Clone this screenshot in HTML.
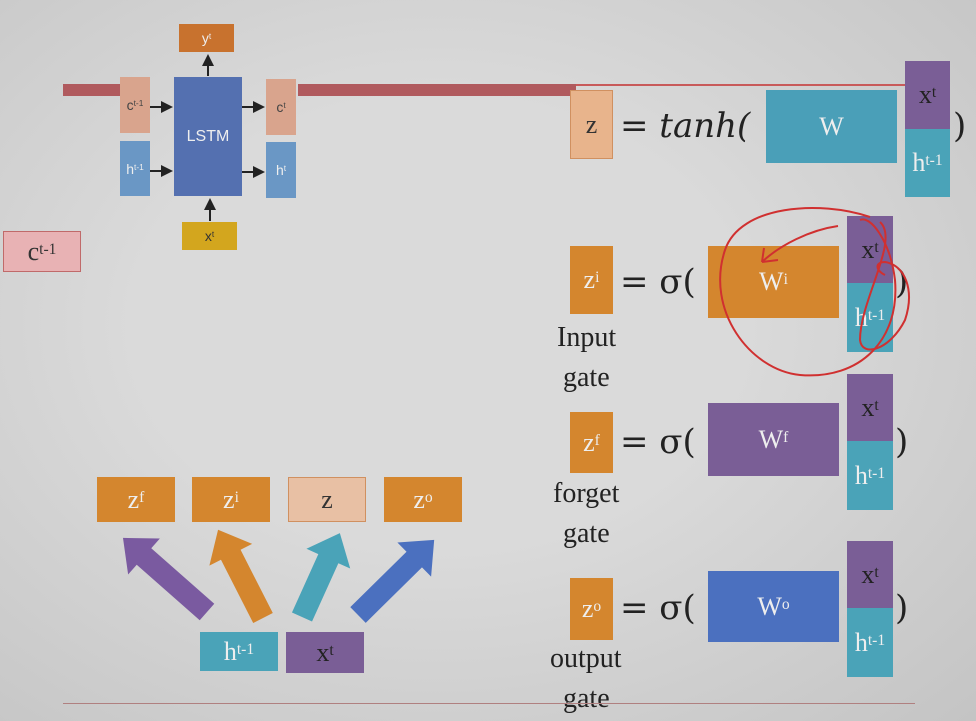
<!DOCTYPE html>
<html><head><meta charset="utf-8"><style>
body{margin:0;width:976px;height:721px;overflow:hidden;background:#d3d3d3;font-family:"Liberation Serif",serif;}
.b{position:absolute;box-sizing:border-box;display:flex;align-items:center;justify-content:center;color:#eee;}
.s{font-family:"Liberation Sans",sans-serif;font-size:14px;}
sup{font-size:60%;vertical-align:top;position:relative;top:-2px}
.t{position:absolute;font-size:28px;color:#222;}
.m{position:absolute;font-size:34px;color:#222;font-family:"DejaVu Serif",serif;}
</style></head><body>
<div style="position:absolute;inset:0;background:radial-gradient(ellipse at 45% 45%,#dadada 40%,#c4c4c4 100%)"></div>
<!-- red line -->
<div style="position:absolute;left:63px;top:84px;width:57px;height:12px;background:#b05a5e"></div>
<div style="position:absolute;left:298px;top:84px;width:278px;height:12px;background:#b05a5e"></div>
<div style="position:absolute;left:576px;top:84px;width:330px;height:2px;background:#c85a5a"></div>
<!-- LSTM unit -->
<div class="b s" style="left:179px;top:24px;width:55px;height:28px;background:#c8722e">y<sup>t</sup></div>
<div class="b s" style="left:120px;top:77px;width:30px;height:56px;background:#d9a48d;color:#444">c<sup>t-1</sup></div>
<div class="b s" style="left:120px;top:141px;width:30px;height:55px;background:#6a97c5">h<sup>t-1</sup></div>
<div class="b s" style="left:174px;top:77px;width:68px;height:119px;background:#5470b0;font-size:16px">LSTM</div>
<div class="b s" style="left:266px;top:79px;width:30px;height:56px;background:#d9a48d;color:#444">c<sup>t</sup></div>
<div class="b s" style="left:266px;top:142px;width:30px;height:56px;background:#6a97c5">h<sup>t</sup></div>
<div class="b s" style="left:182px;top:222px;width:55px;height:28px;background:#d3a61e;color:#333">x<sup>t</sup></div>
<svg style="position:absolute;left:0;top:0" width="976" height="721">
<defs><marker id="a" markerWidth="6" markerHeight="6" refX="5" refY="3" orient="auto"><path d="M0,0L6,3L0,6z" fill="#222"/></marker></defs>
<g stroke="#222" stroke-width="2" marker-end="url(#a)">
<line x1="150" y1="107" x2="171" y2="107"/><line x1="150" y1="171" x2="171" y2="171"/>
<line x1="242" y1="107" x2="263" y2="107"/><line x1="242" y1="172" x2="263" y2="172"/>
<line x1="208" y1="76" x2="208" y2="56"/><line x1="210" y1="221" x2="210" y2="200"/>
</g>
</svg>
<div class="b" style="left:3px;top:231px;width:78px;height:41px;background:#e8b2b4;border:1px solid #c06a6a;color:#333;font-size:26px">c<sup>t-1</sup></div>
<!-- equations -->
<div class="b" style="left:570px;top:90px;width:43px;height:69px;background:#e8b48c;border:1px solid #d09060;color:#333;font-size:26px">z</div>
<div class="m" style="left:620px;top:106px;font-style:italic">= tanh(</div>
<div class="b" style="left:766px;top:90px;width:131px;height:73px;background:#4a9fb8;font-size:26px">W</div>
<div class="b" style="left:905px;top:61px;width:45px;height:68px;background:#7a5e96;color:#222;font-size:26px">x<sup>t</sup></div>
<div class="b" style="left:905px;top:129px;width:45px;height:68px;background:#4aa3b8;font-size:26px">h<sup>t-1</sup></div>
<div class="m" style="left:953px;top:106px">)</div>

<div class="b" style="left:570px;top:246px;width:43px;height:68px;background:#d4862e;font-size:26px">z<sup>i</sup></div>
<div class="m" style="left:620px;top:262px">= σ(</div>
<div class="b" style="left:708px;top:246px;width:131px;height:72px;background:#d4862e;font-size:26px">W<sup>i</sup></div>
<div class="b" style="left:847px;top:216px;width:46px;height:67px;background:#7a5e96;color:#222;font-size:26px">x<sup>t</sup></div>
<div class="b" style="left:847px;top:283px;width:46px;height:69px;background:#4aa3b8;font-size:26px">h<sup>t-1</sup></div>
<div class="m" style="left:895px;top:262px">)</div>
<div class="t" style="left:557px;top:322px">Input</div>
<div class="t" style="left:563px;top:362px">gate</div>

<div class="b" style="left:570px;top:412px;width:43px;height:61px;background:#d4862e;font-size:26px">z<sup>f</sup></div>
<div class="m" style="left:620px;top:422px">= σ(</div>
<div class="b" style="left:708px;top:403px;width:131px;height:73px;background:#7a5e96;font-size:26px">W<sup>f</sup></div>
<div class="b" style="left:847px;top:374px;width:46px;height:67px;background:#7a5e96;color:#222;font-size:26px">x<sup>t</sup></div>
<div class="b" style="left:847px;top:441px;width:46px;height:69px;background:#4aa3b8;font-size:26px">h<sup>t-1</sup></div>
<div class="m" style="left:895px;top:422px">)</div>
<div class="t" style="left:553px;top:478px">forget</div>
<div class="t" style="left:563px;top:518px">gate</div>

<div class="b" style="left:570px;top:578px;width:43px;height:62px;background:#d4862e;font-size:26px">z<sup>o</sup></div>
<div class="m" style="left:620px;top:588px">= σ(</div>
<div class="b" style="left:708px;top:571px;width:131px;height:71px;background:#4b70bf;font-size:26px">W<sup>o</sup></div>
<div class="b" style="left:847px;top:541px;width:46px;height:67px;background:#7a5e96;color:#222;font-size:26px">x<sup>t</sup></div>
<div class="b" style="left:847px;top:608px;width:46px;height:69px;background:#4aa3b8;font-size:26px">h<sup>t-1</sup></div>
<div class="m" style="left:895px;top:588px">)</div>
<div class="t" style="left:550px;top:643px">output</div>
<div class="t" style="left:563px;top:683px">gate</div>
<div style="position:absolute;left:63px;top:703px;width:852px;height:1px;background:#b08080"></div>

<!-- bottom -->
<div class="b" style="left:97px;top:477px;width:78px;height:45px;background:#d4862e;font-size:26px">z<sup>f</sup></div>
<div class="b" style="left:192px;top:477px;width:78px;height:45px;background:#d4862e;font-size:26px">z<sup>i</sup></div>
<div class="b" style="left:288px;top:477px;width:78px;height:45px;background:#e8c0a4;border:1px solid #d09060;color:#333;font-size:26px">z</div>
<div class="b" style="left:384px;top:477px;width:78px;height:45px;background:#d4862e;font-size:26px">z<sup>o</sup></div>
<div class="b" style="left:200px;top:632px;width:78px;height:39px;background:#4aa3b8;font-size:26px">h<sup>t-1</sup></div>
<div class="b" style="left:286px;top:632px;width:78px;height:41px;background:#7a5e96;color:#222;font-size:26px">x<sup>t</sup></div>
<svg style="position:absolute;left:0;top:0" width="976" height="721">
<g transform="translate(207,612) rotate(-138.6)"><polygon points="0,-11 84,-11 84,-24 112,0 84,24 84,11 0,11" fill="#7a5aa0"/></g>
<g transform="translate(263,618) rotate(-117)"><polygon points="0,-11 71,-11 71,-24 99,0 71,24 71,11 0,11" fill="#d4862e"/></g>
<g transform="translate(302,617) rotate(-65.7)"><polygon points="0,-11 64,-11 64,-24 92,0 64,24 64,11 0,11" fill="#4aa3b8"/></g>
<g transform="translate(358,615) rotate(-44.6)"><polygon points="0,-11 79,-11 79,-24 107,0 79,24 79,11 0,11" fill="#4b70bf"/></g>
<g fill="none" stroke="#d03030" stroke-width="2">
<path d="M870,217 C820,200 740,205 725,250 C705,310 750,370 800,375 C860,380 900,340 895,280 C890,240 870,215 860,220"/>
<path d="M838,226 C810,230 780,245 762,262 M762,262 L764,248 M762,262 L778,260"/>
<path d="M880,222 C900,240 860,300 860,340 C862,358 890,350 905,320 C915,290 905,265 885,262 C875,262 875,270 885,275"/>
</g>
</svg>
</body></html>
